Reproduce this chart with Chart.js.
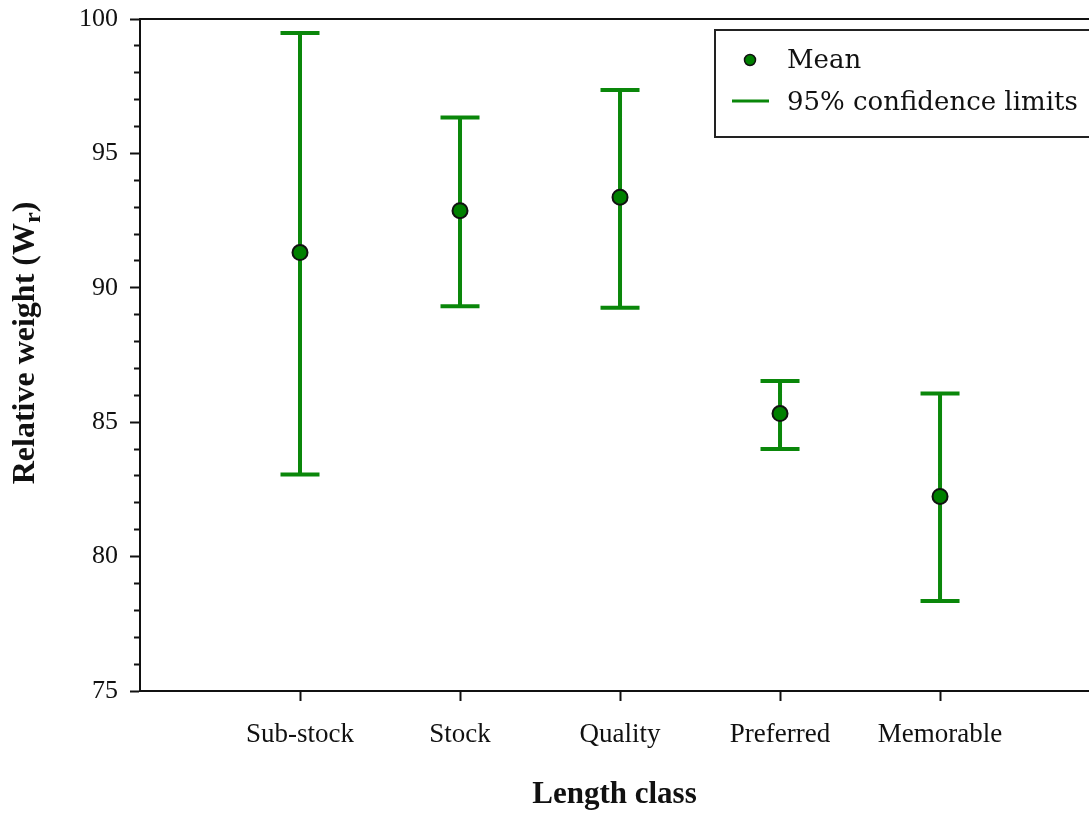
<!DOCTYPE html>
<html>
<head>
<meta charset="utf-8">
<script src="https://cdn.jsdelivr.net/npm/chart.js@4.4.0/dist/chart.umd.min.js"></script>
<style>
  html, body { margin: 0; padding: 0; background: #ffffff; }
  #wrap { width: 1089px; height: 814px; }
</style>
</head>
<body>
<div id="wrap"><canvas id="c" width="1089" height="814"></canvas></div>
<script>
// Relative weight (Wr) by length class: mean and 95% confidence limits
const lengthClasses = ['Sub-stock', 'Stock', 'Quality', 'Preferred', 'Memorable'];
const meanWr  = [91.31, 92.87, 93.37, 85.32, 82.24];
const lowerCL = [83.05, 89.31, 89.26, 84.00, 78.35];
const upperCL = [99.48, 96.34, 97.36, 86.53, 86.07];
const yTickLabels = [75, 80, 85, 90, 95, 100];

const GREEN = '#008000';
const BAR_GREEN = '#0a870a';
const INK = '#111111';
const SERIF = '"Liberation Serif", "Times New Roman", serif';

// x positions: class i sits at i + 1 on a linear axis
const meanPoints = meanWr.map((v, i) => ({ x: i + 1, y: v }));
const whiskerPoints = [];
lengthClasses.forEach((_, i) => {
  whiskerPoints.push({ x: i + 1, y: lowerCL[i] });
  whiskerPoints.push({ x: i + 1, y: upperCL[i] });
  whiskerPoints.push({ x: i + 1, y: null });
});
const capPoints = [];
lengthClasses.forEach((_, i) => {
  capPoints.push({ x: i + 1, y: lowerCL[i] });
  capPoints.push({ x: i + 1, y: upperCL[i] });
});

// frame line along the top of the plot area, the rotated y title with subscript, and the legend box
const decorations = {
  id: 'decorations',
  afterDraw(chart) {
    const { ctx, chartArea } = chart;
    ctx.save();
    ctx.strokeStyle = INK;
    ctx.lineWidth = 2;
    ctx.beginPath();
    ctx.moveTo(chartArea.left, chartArea.top);
    ctx.lineTo(chart.width, chartArea.top);
    ctx.stroke();
    ctx.restore();

    // y axis title: Relative weight (W_r)
    ctx.save();
    ctx.translate(34, 343);
    ctx.rotate(-Math.PI / 2);
    ctx.fillStyle = INK;
    ctx.textBaseline = 'alphabetic';
    const mainFont = 'bold 32px ' + SERIF;
    const subFont = 'bold 24px ' + SERIF;
    const partA = 'Relative weight (W';
    const partB = 'r';
    const partC = ')';
    ctx.font = mainFont;
    const wA = ctx.measureText(partA).width;
    const wC = ctx.measureText(partC).width;
    ctx.font = subFont;
    const wB = ctx.measureText(partB).width;
    let x = -(wA + wB + wC) / 2;
    ctx.font = mainFont;
    ctx.fillText(partA, x, 0);
    x += wA;
    ctx.font = subFont;
    ctx.fillText(partB, x, 6);
    x += wB;
    ctx.font = mainFont;
    ctx.fillText(partC, x, 0);
    ctx.restore();

    // legend
    ctx.save();
    ctx.fillStyle = '#ffffff';
    ctx.strokeStyle = '#222222';
    ctx.lineWidth = 2;
    ctx.fillRect(715, 30, chart.width, 107);
    ctx.strokeRect(715, 30, chart.width, 107);
    ctx.beginPath();
    ctx.arc(750, 60, 5.5, 0, Math.PI * 2);
    ctx.fillStyle = GREEN;
    ctx.fill();
    ctx.lineWidth = 1.5;
    ctx.strokeStyle = INK;
    ctx.stroke();
    ctx.strokeStyle = BAR_GREEN;
    ctx.lineWidth = 3;
    ctx.beginPath();
    ctx.moveTo(732, 101);
    ctx.lineTo(769, 101);
    ctx.stroke();
    ctx.fillStyle = INK;
    ctx.font = '26px "DejaVu Serif", serif';
    ctx.textBaseline = 'middle';
    ctx.fillText('Mean', 787, 61);
    ctx.fillText('95% confidence limits', 787, 103);
    ctx.restore();
  }
};

new Chart(document.getElementById('c'), {
  data: {
    datasets: [
      {
        type: 'scatter',
        label: 'Mean',
        data: meanPoints,
        pointRadius: 7.5,
        pointHoverRadius: 7.5,
        pointBackgroundColor: GREEN,
        pointBorderColor: INK,
        pointBorderWidth: 2
      },
      {
        type: 'scatter',
        label: 'caps',
        data: capPoints,
        pointStyle: 'line',
        pointRadius: 19.5,
        pointHoverRadius: 19.5,
        pointBorderColor: BAR_GREEN,
        pointBorderWidth: 4
      },
      {
        type: 'line',
        label: '95% confidence limits',
        data: whiskerPoints,
        showLine: true,
        spanGaps: false,
        borderColor: BAR_GREEN,
        borderWidth: 4,
        pointRadius: 0,
        pointHoverRadius: 0
      }
    ]
  },
  options: {
    responsive: false,
    animation: false,
    events: [],
    layout: { autoPadding: false, padding: { top: 19, right: 0, bottom: 0, left: 0 } },
    plugins: {
      legend: { display: false },
      tooltip: { enabled: false }
    },
    scales: {
      x: {
        type: 'linear',
        position: 'bottom',
        min: 0,
        max: 5.931,
        afterBuildTicks: (scale) => {
          scale.ticks = lengthClasses.map((_, i) => ({ value: i + 1 }));
        },
        afterFit: (scale) => {
          scale.height = 123;
          scale.paddingLeft = 0;
          scale.paddingRight = 0;
        },
        ticks: {
          autoSkip: false,
          maxRotation: 0,
          padding: 18,
          color: INK,
          font: { family: SERIF, size: 27 },
          callback: (v) => lengthClasses[v - 1] || ''
        },
        grid: {
          drawOnChartArea: false,
          drawTicks: true,
          tickLength: 10,
          tickWidth: 2,
          tickColor: INK
        },
        border: { display: true, color: INK, width: 2 },
        title: {
          display: true,
          text: 'Length class',
          color: INK,
          font: { family: SERIF, size: 31, weight: 'bold' },
          padding: { top: 0, bottom: 0 }
        }
      },
      y: {
        type: 'linear',
        position: 'left',
        min: yTickLabels[0],
        max: yTickLabels[yTickLabels.length - 1],
        afterFit: (scale) => {
          scale.width = 140;
          scale.paddingTop = 0;
          scale.paddingBottom = 0;
        },
        ticks: {
          stepSize: 1,
          autoSkip: false,
          padding: 12,
          color: INK,
          font: { family: SERIF, size: 26 },
          callback: (v) => (yTickLabels.includes(v) ? String(v) : '')
        },
        grid: {
          drawOnChartArea: false,
          drawTicks: true,
          tickLength: 10,
          tickWidth: 2,
          tickColor: INK,
          // minor ticks keep only the 6px next to the axis
          tickBorderDash: (ctx) => (ctx.tick && yTickLabels.includes(ctx.tick.value) ? [] : [0, 4, 6, 40])
        },
        border: { display: true, color: INK, width: 2 }
      }
    }
  },
  plugins: [decorations]
});
</script>
</body>
</html>
